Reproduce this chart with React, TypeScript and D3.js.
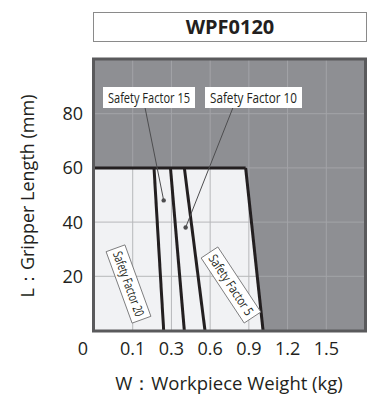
import React from "react";
import * as d3 from "d3";

// ---- data ----
const xCategories = [0, 0.1, 0.3, 0.6, 0.9, 1.2, 1.5, 1.8];
const xTickValues = [0, 0.1, 0.3, 0.6, 0.9, 1.2, 1.5];
const yTickValues = [20, 40, 60, 80];
const factorNames = ["Safety Factor 20", "Safety Factor 15", "Safety Factor 10", "Safety Factor 5"];
const weightAtMaxLength = [0.21, 0.295, 0.4, 0.875];
const weightAtZeroLength = [0.26, 0.4, 0.56, 1.01];
const maxLength = 60;
const markerWeights = [0.26, 0.41];
const markerLengths = [48, 38];
const title = "WPF0120";
const xTitle = "W：Workpiece Weight (kg)";
const yTitle = "L：Gripper Length (mm)";

const W = 371;
const H = 401;
const left = 94;
const right = 365;
const top = 59.5;
const bottom = 330.5;

const FONT = "'Open Sans', 'Noto Sans', sans-serif";

export default function App() {
  const x = d3
    .scaleLinear()
    .domain(xCategories)
    .range(xCategories.map((_, i) => left + ((right - left) * i) / (xCategories.length - 1)));
  const y = d3.scaleLinear().domain([0, 100]).range([bottom, top]);

  const sf5 = factorNames.length - 1;
  const envelope: [number, number][] = [
    [0, 0],
    [0, maxLength],
    [weightAtMaxLength[sf5], maxLength],
    [weightAtZeroLength[sf5], 0],
  ];
  const line = d3
    .line<[number, number]>()
    .x((d) => x(d[0]))
    .y((d) => y(d[1]));

  const gridX = xCategories.slice(1, -1);
  const gridY = [20, 40, 60, 80];

  const gridLines = (color: string) => (
    <g stroke={color} strokeWidth={1}>
      {gridX.map((v) => (
        <line key={"gx" + v} x1={x(v)} x2={x(v)} y1={y(100)} y2={y(0)} />
      ))}
      {gridY.map((v) => (
        <line key={"gy" + v} x1={x(0)} x2={x(1.8)} y1={y(v)} y2={y(v)} />
      ))}
    </g>
  );

  // annotation layout (pixel offsets)
  const topLabels = [
    { idx: 1, cx: 149, cy: 97.5, w: 92, lx: 145 },
    { idx: 2, cx: 253.5, cy: 97.5, w: 97, lx: 233 },
  ];
  const rotLabels = [
    { idx: 0, cx: 128.5, cy: 284, w: 76, angle: 70 },
    { idx: 3, cx: 231, cy: 285, w: 78, angle: 56.5 },
  ];

  return (
    <svg width={W} height={H} style={{ display: "block", position: "absolute", left: 0, top: 0 }}>
      <rect x={0} y={0} width={W} height={H} fill="#ffffff" />
      {/* title box */}
      <rect x={93.5} y={12.5} width={273} height={29} fill="#ffffff" stroke="#8a8a8a" strokeWidth={1} />
      <text x={230} y={34} textAnchor="middle" fontFamily={FONT} fontWeight={700} fontSize={20} fill="#231f20">
        {title}
      </text>

      <defs>
        <clipPath id="env">
          <path d={line(envelope) + "Z"} />
        </clipPath>
      </defs>

      {/* plot background */}
      <rect x={left} y={top} width={right - left} height={bottom - top} fill="#8e8f93" />
      {gridLines("#a3a4a8")}
      <path d={line(envelope) + "Z"} fill="#f1f2f4" />
      <g clipPath="url(#env)">{gridLines("#b7b8ba")}</g>

      {/* safety factor lines */}
      <g stroke="#231f20" strokeWidth={3} fill="none">
        {factorNames.map((n, i) => (
          <path
            key={n}
            d={
              line([
                [weightAtMaxLength[i], maxLength],
                [weightAtZeroLength[i], 0],
              ]) || ""
            }
          />
        ))}
        <path
          d={
            line([
              [0, maxLength],
              [weightAtMaxLength[sf5], maxLength],
            ]) || ""
          }
        />
      </g>

      {/* frame */}
      <rect x={left - 0.5} y={top - 0.5} width={right - left + 1} height={bottom - top + 1} fill="none" stroke="#5a5a5c" strokeWidth={3} />

      {/* leader lines and top labels */}
      {topLabels.map((l, k) => (
        <g key={"tl" + l.idx}>
          <line
            x1={l.lx}
            y1={l.cy + 10}
            x2={x(markerWeights[k])}
            y2={y(markerLengths[k])}
            stroke="#4d4d4f"
            strokeWidth={1}
          />
          <circle cx={x(markerWeights[k])} cy={y(markerLengths[k])} r={2.2} fill="#4d4d4f" />
          <rect x={l.cx - l.w / 2} y={l.cy - 10.5} width={l.w} height={21} fill="#ffffff" />
          <text
            x={l.cx}
            y={l.cy + 5}
            textAnchor="middle"
            fontFamily={FONT}
            fontSize={14}
            fill="#231f20"
            textLength={l.w - 10}
            lengthAdjust="spacingAndGlyphs"
          >
            {factorNames[l.idx]}
          </text>
        </g>
      ))}

      {/* rotated labels */}
      {rotLabels.map((l) => (
        <g key={"rl" + l.idx} transform={`translate(${l.cx},${l.cy}) rotate(${l.angle})`}>
          <rect x={-l.w / 2} y={-10} width={l.w} height={20} fill="#ffffff" stroke="#6d6d6f" strokeWidth={0.8} />
          <text
            x={0}
            y={4.5}
            textAnchor="middle"
            fontFamily={FONT}
            fontSize={13}
            fill="#231f20"
            textLength={l.w - 8}
            lengthAdjust="spacingAndGlyphs"
          >
            {factorNames[l.idx]}
          </text>
        </g>
      ))}

      {/* x tick labels */}
      <g fontFamily={FONT} fontSize={18} fill="#231f20" textAnchor="middle">
        {xTickValues.map((v) => (
          <text key={"xt" + v} x={v === 0 ? x(v) - 11 : x(v)} y={355}>
            {String(v)}
          </text>
        ))}
      </g>
      {/* y tick labels */}
      <g fontFamily={FONT} fontSize={18} fill="#231f20" textAnchor="end">
        {yTickValues.map((v) => (
          <text key={"yt" + v} x={83} y={y(v) + 6.5}>
            {String(v)}
          </text>
        ))}
      </g>

      <text x={229} y={390} textAnchor="middle" fontFamily={FONT} fontSize={18.5} fill="#231f20">
        {xTitle}
      </text>
      <text
        transform={`translate(34,196) rotate(-90)`}
        textAnchor="middle"
        fontFamily={FONT}
        fontSize={18}
        fill="#231f20"
      >
        {yTitle}
      </text>
    </svg>
  );
}
